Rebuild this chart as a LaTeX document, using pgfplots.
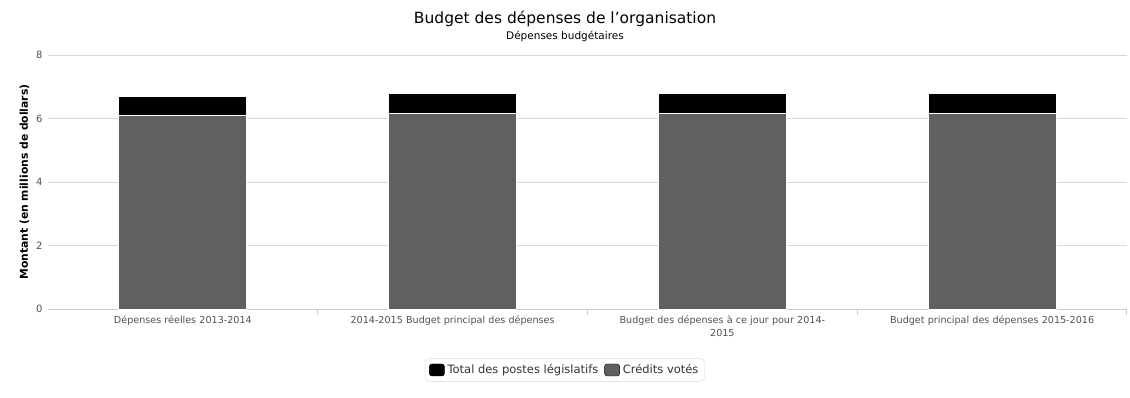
\documentclass[border=0pt]{standalone}
\usepackage{pgfplots}
\pgfplotsset{compat=1.18}
\usepackage{fontspec}
\setmainfont{DejaVu Sans}
\definecolor{votes}{HTML}{606060}
\definecolor{gridc}{HTML}{D8D8D8}
\definecolor{axisc}{HTML}{C0D0E0}
\definecolor{tickc}{HTML}{505050}
\begin{document}
\begin{tikzpicture}[x=1pt,y=1pt]
\useasboundingbox (-48,-88) rectangle (1082,309);
\begin{axis}[
  at={(0,0)}, anchor=south west,
  scale only axis, width=1079pt, height=254pt,
  ybar stacked, bar width=128pt,
  xmin=-0.5, xmax=3.5, ymin=0, ymax=8,
  ytick={0,2,4,6,8},
  xtick={0,1,2,3},
  xticklabels={Dépenses réelles 2013-2014,2014-2015 Budget principal des dépenses,Budget des dépenses à ce jour pour 2014-\\2015,Budget principal des dépenses 2015-2016},
  xticklabel style={text width=265pt, align=center, font=\fontsize{9.6}{13}\selectfont, text=tickc, yshift=-3pt},
  yticklabel style={font=\fontsize{10}{12}\selectfont, text=tickc, xshift=-2pt},
  /pgf/number format/assume math mode=true,
  major tick length=0pt,
  extra x ticks={0.5,1.5,2.5,3.5},
  extra x tick labels={},
  extra x tick style={major tick length=6pt, tick style={draw=axisc, line width=1pt}, grid=none, xtick align=outside},
  ymajorgrids, grid style={draw=gridc, line width=1pt},
  axis x line*=bottom, axis y line*=left,
  y axis line style={draw=none},
  x axis line style={draw=axisc, line width=1pt, -},
  ylabel={\bfseries Montant (en millions de dollars)},
  ylabel style={font=\fontsize{10.8}{12}\selectfont, xshift=0pt},
  legend style={at={(rel axis cs:0.479,-0.24)}, anchor=center, draw=gridc, rounded corners=4pt, font=\fontsize{11.5}{14}\selectfont, text=black!80, legend columns=2, /tikz/every even column/.append style={column sep=4pt}, /tikz/every odd column/.append style={column sep=1pt}, inner sep=4pt},
  legend image code/.code={\fill[#1, rounded corners=2.5pt] (0pt,-6pt) rectangle (15pt,6pt);},
  clip=false,
]
\addlegendimage{fill=black}
\addlegendentry{Total des postes législatifs}
\addlegendimage{fill=votes}
\addlegendentry{Crédits votés}
\addplot[fill=votes, draw=white, line width=1pt, forget plot] coordinates {(0,6.08) (1,6.17) (2,6.17) (3,6.17)};
\addplot[fill=black, draw=white, line width=1pt, forget plot] coordinates {(0,0.61) (1,0.62) (2,0.62) (3,0.62)};
\end{axis}
\node[font=\fontsize{15.5}{18}\selectfont] at (517,290) {Budget des dépenses de l’organisation};
\node[font=\fontsize{10.5}{13}\selectfont] at (517,273) {Dépenses budgétaires};
\end{tikzpicture}
\end{document}
